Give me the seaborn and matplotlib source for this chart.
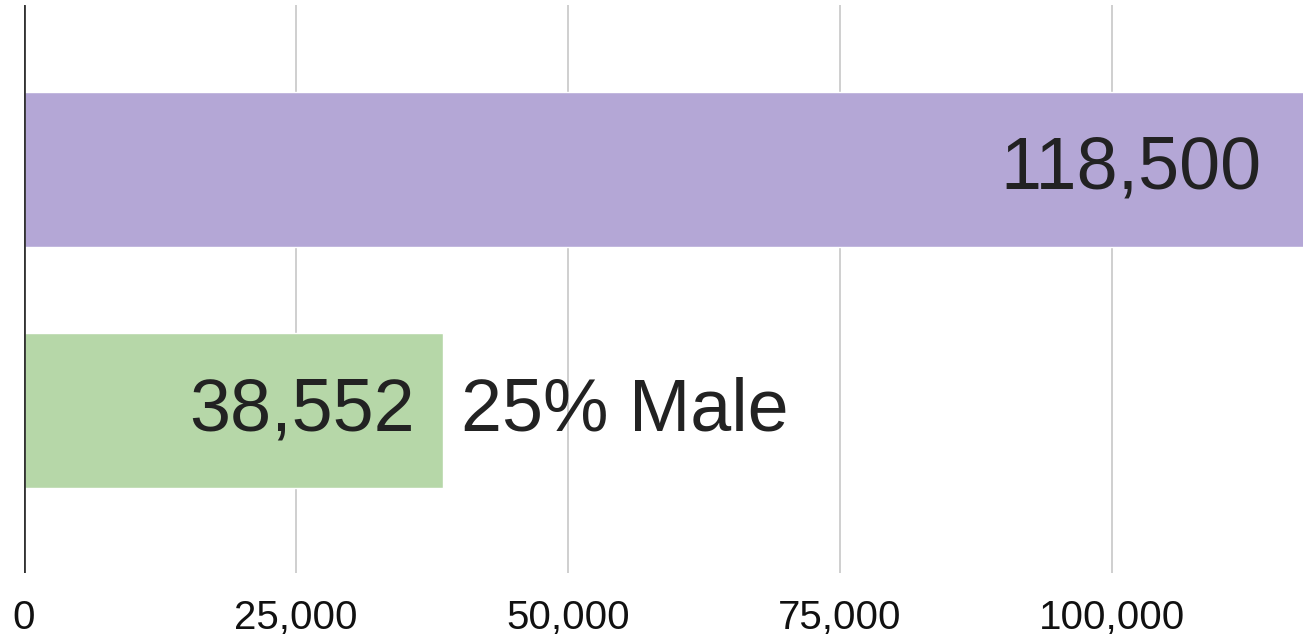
import numpy as np
import pandas as pd
import seaborn as sns
import matplotlib.pyplot as plt
from matplotlib.ticker import FuncFormatter

# data
groups = ["Total", "Male"]
counts = [118500, 38552]
bar_labels = ["118,500", "38,552"]
side_labels = ["", "25% Male"]
bar_colors = ["#b4a7d6", "#b6d7a8"]
x_ticks = [0, 25000, 50000, 75000, 100000]

df = pd.DataFrame({"group": groups, "count": counts})

sns.set_style("white")
plt.rcParams['font.family'] = ['Liberation Sans', 'DejaVu Sans']

fig = plt.figure(figsize=(13.03, 6.37), dpi=100)
ax = fig.add_axes([24 / 1303, 1 - 573 / 637, 1 - 24 / 1303, 568 / 637])

sns.barplot(data=df, y="group", x="count", hue="group", palette=bar_colors,
            orient="h", width=0.642, saturation=1, legend=False, ax=ax, zorder=2)

xmax = 117555
ax.set_xlim(0, xmax)
ax.set_ylim(1.671, -0.681)
ax.set_xticks(x_ticks)
ax.xaxis.set_major_formatter(FuncFormatter(lambda v, p: f"{int(v):,}"))
ax.tick_params(axis="x", length=0, pad=19, labelsize=29, labelcolor="#111111")
ax.set_yticks([])
ax.set_xlabel("")
ax.set_ylabel("")
ax.grid(axis="x", color="#cccccc", linewidth=1.3, zorder=0)
ax.axvline(0, color="#333333", linewidth=2, zorder=3)
for s in ax.spines.values():
    s.set_visible(False)

for i, (v, lab, side) in enumerate(zip(counts, bar_labels, side_labels)):
    end = min(v, xmax)
    off = -41 if v > xmax else -29
    ax.annotate(lab, (end, i), xytext=(off, 0), textcoords="offset pixels",
                ha="right", va="center", fontsize=53, color="#222222", zorder=4)
    if side:
        ax.annotate(side, (end, i), xytext=(18, 0), textcoords="offset pixels",
                    ha="left", va="center", fontsize=53, color="#222222", zorder=4)

fig.savefig("out.png", dpi=100)
